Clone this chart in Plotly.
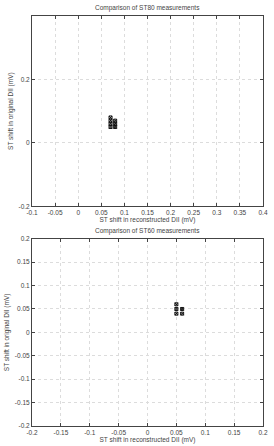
import plotly.graph_objects as go
from plotly.subplots import make_subplots

# ST80 comparison (top)
st80_x = [0.07, 0.07, 0.07, 0.07, 0.08, 0.08, 0.08]
st80_y = [0.05, 0.06, 0.07, 0.08, 0.05, 0.06, 0.07]
# ST60 comparison (bottom)
st60_x = [0.05, 0.05, 0.05, 0.06, 0.06]
st60_y = [0.04, 0.05, 0.06, 0.04, 0.05]

top_xticks = [-0.1, -0.05, 0, 0.05, 0.1, 0.15, 0.2, 0.25, 0.3, 0.35, 0.4]
top_yticks = [-0.2, 0, 0.2]
bot_xticks = [-0.2, -0.15, -0.1, -0.05, 0, 0.05, 0.1, 0.15, 0.2]
bot_yticks = [-0.2, -0.15, -0.1, -0.05, 0, 0.05, 0.1, 0.15, 0.2]

titles = ["Comparison of ST80 measurements", "Comparison of ST60 measurements"]
xlabel = "ST shift in reconstructed DII (mV)"
ylabel = "ST shift in original DII (mV)"

FONT = "Liberation Sans"
fig = make_subplots(rows=2, cols=1)
mk = dict(symbol="square-x-open", size=3, color="#111", line=dict(color="#111", width=1))
fig.add_trace(go.Scatter(x=st80_x, y=st80_y, mode="markers", marker=mk), row=1, col=1)
fig.add_trace(go.Scatter(x=st60_x, y=st60_y, mode="markers", marker=mk), row=2, col=1)

axis_common = dict(showline=True, linecolor="#444", linewidth=1, mirror="ticks",
                   ticks="inside", ticklen=3, tickcolor="#444",
                   showgrid=True, gridcolor="#dcdcdc", griddash="dot", gridwidth=0.6,
                   zeroline=False, tickfont=dict(family=FONT, size=6.5, color="#444"),
                   title_font=dict(family=FONT, size=6.5, color="#444"))

fig.update_xaxes(**axis_common)
fig.update_yaxes(**axis_common)

fig.update_layout(
    width=274, height=446, showlegend=False,
    margin=dict(l=23, r=6, t=16, b=14),
    plot_bgcolor="white", paper_bgcolor="white",
    xaxis=dict(domain=[0, 1], range=[-0.1, 0.4], tickvals=top_xticks,
               ticktext=[f"{v:g}" for v in top_xticks],
               title=dict(text=xlabel, standoff=0)),
    yaxis=dict(domain=[0.536, 1.0], range=[-0.2, 0.4], tickvals=top_yticks,
               ticktext=[f"{v:g}" for v in top_yticks],
               title=dict(text=ylabel, standoff=4)),
    xaxis2=dict(domain=[0, 1], range=[-0.2, 0.2], tickvals=bot_xticks,
                ticktext=[f"{v:g}" for v in bot_xticks],
                title=dict(text=xlabel, standoff=0)),
    yaxis2=dict(domain=[0, 0.4567], range=[-0.2, 0.2], tickvals=bot_yticks,
                ticktext=[f"{v:g}" for v in bot_yticks],
                title=dict(text=ylabel, standoff=4)),
)
fig.add_annotation(text=titles[0], xref="paper", yref="paper", x=0.5, y=1.0,
                   yanchor="bottom", yshift=2, showarrow=False,
                   font=dict(family=FONT, size=6.5, color="#444"))
fig.add_annotation(text=titles[1], xref="paper", yref="paper", x=0.5, y=0.4567,
                   yanchor="bottom", yshift=2, showarrow=False,
                   font=dict(family=FONT, size=6.5, color="#444"))

fig.write_html("out.html")
